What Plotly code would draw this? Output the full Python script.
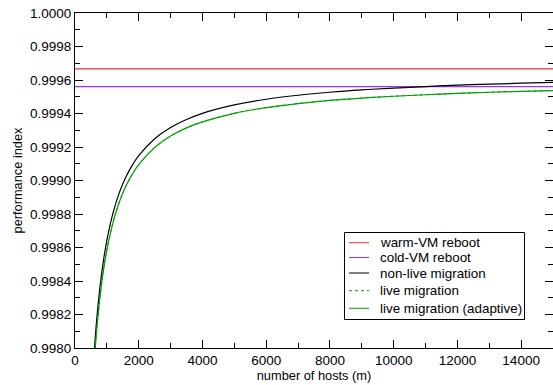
import plotly.graph_objects as go

hosts = [600, 650, 700, 800, 900, 1000, 1200, 1400, 1600, 1800, 2000, 2500, 3000, 3500,
         4000, 5000, 6000, 7000, 8000, 9000, 10000, 11000, 12000, 13000, 14000, 15000]
non_live = [0.997970, 0.998099, 0.998210, 0.998391, 0.998531, 0.998643, 0.998811, 0.998932,
            0.999022, 0.999092, 0.999148, 0.999249, 0.999316, 0.999364, 0.999401, 0.999451,
            0.999485, 0.999509, 0.999527, 0.999541, 0.999552, 0.999561, 0.999569, 0.999575,
            0.999581, 0.999586]
live_adaptive = [0.997905, 0.998036, 0.998148, 0.998330, 0.998472, 0.998585, 0.998755, 0.998876,
                 0.998968, 0.999038, 0.999095, 0.999197, 0.999265, 0.999314, 0.999350, 0.999401,
                 0.999435, 0.999459, 0.999478, 0.999492, 0.999503, 0.999512, 0.999520, 0.999527,
                 0.999532, 0.999537]
live = live_adaptive
flat_x = [0, 15000]
warm_vm = [0.999666, 0.999666]
cold_vm = [0.999561, 0.999561]

series_names = ["warm-VM reboot", "cold-VM reboot", "non-live migration",
                "live migration", "live migration (adaptive)"]
colors = ["#f03030", "#a030e8", "black", "#00a000", "#00a000"]
dashes = ["solid", "solid", "solid", "dot", "solid"]

fig = go.Figure()
fig.add_trace(go.Scatter(x=flat_x, y=warm_vm, mode="lines", name=series_names[0],
                         line=dict(color=colors[0], width=1.2)))
fig.add_trace(go.Scatter(x=flat_x, y=cold_vm, mode="lines", name=series_names[1],
                         line=dict(color=colors[1], width=1.2)))
fig.add_trace(go.Scatter(x=hosts, y=live, mode="lines", name=series_names[3],
                         line=dict(color=colors[3], width=1, dash="dot", shape="spline")))
fig.add_trace(go.Scatter(x=hosts, y=non_live, mode="lines", name=series_names[2],
                         line=dict(color=colors[2], width=1.2, shape="spline")))
fig.add_trace(go.Scatter(x=hosts, y=live_adaptive, mode="lines", name=series_names[4],
                         line=dict(color=colors[4], width=1.2, shape="spline")))

W, H = 553, 385
L, R, T, B = 75, 0, 13, 37
pw, ph = W - L - R, H - T - B

def px(xp):
    return (xp - L) / pw

def py(yp):
    return (H - B - yp) / ph

# manual legend box
fig.add_shape(type="rect", xref="paper", yref="paper",
              x0=px(344.5), x1=px(524.5), y0=py(319.5), y1=py(232.5),
              line=dict(color="black", width=1), fillcolor="white", layer="above")
row_y = [242.7, 257.5, 273.0, 290.7, 308.3]
for name, c, d, yy in zip(series_names, colors, dashes, row_y):
    fig.add_shape(type="line", xref="paper", yref="paper",
                  x0=px(349), x1=px(369), y0=py(yy), y1=py(yy),
                  line=dict(color=c, width=1, dash=d), layer="above")
    fig.add_annotation(xref="paper", yref="paper", x=px(378), y=py(yy),
                       xanchor="left", yanchor="middle", text=name, showarrow=False,
                       font=dict(size=13.4, color="black"))

font = "Liberation Sans, Arial, sans-serif"
fig.update_layout(
    width=W, height=H,
    margin=dict(l=L, r=R, t=T, b=B, autoexpand=False),
    plot_bgcolor="white", paper_bgcolor="white",
    font=dict(family=font, size=13, color="black"),
    showlegend=False,
)
fig.update_xaxes(
    range=[0, 15000], showgrid=False, zeroline=False, automargin=False,
    showline=True, linecolor="black", linewidth=1.2, mirror="ticks",
    ticks="inside", ticklen=8, tickcolor="black", tickwidth=1,
    tickvals=[0, 2000, 4000, 6000, 8000, 10000, 12000, 14000], tickformat="d",
    minor=dict(ticks="inside", ticklen=5, tickcolor="black", dtick=1000, tick0=0),
    title=dict(text="number of hosts (m)", font=dict(size=12.8), standoff=1),
    tickfont=dict(size=13.5),
)
fig.update_yaxes(
    range=[0.998, 1.0], showgrid=False, zeroline=False, automargin=False,
    showline=True, linecolor="black", linewidth=1.2, mirror="ticks",
    ticks="inside", ticklen=8, tickcolor="black", tickwidth=1,
    tickvals=[0.998, 0.9982, 0.9984, 0.9986, 0.9988, 0.999, 0.9992, 0.9994, 0.9996, 0.9998, 1.0],
    tickformat=".4f",
    minor=dict(ticks="inside", ticklen=5, tickcolor="black", dtick=0.0001, tick0=0.998),
    title=dict(text="performance index", font=dict(size=12.8), standoff=4),
    tickfont=dict(size=13.5),
)
fig.write_html("out.html", config={"displayModeBar": False},
               post_script="document.body.style.margin='0';document.body.style.padding='0';")
